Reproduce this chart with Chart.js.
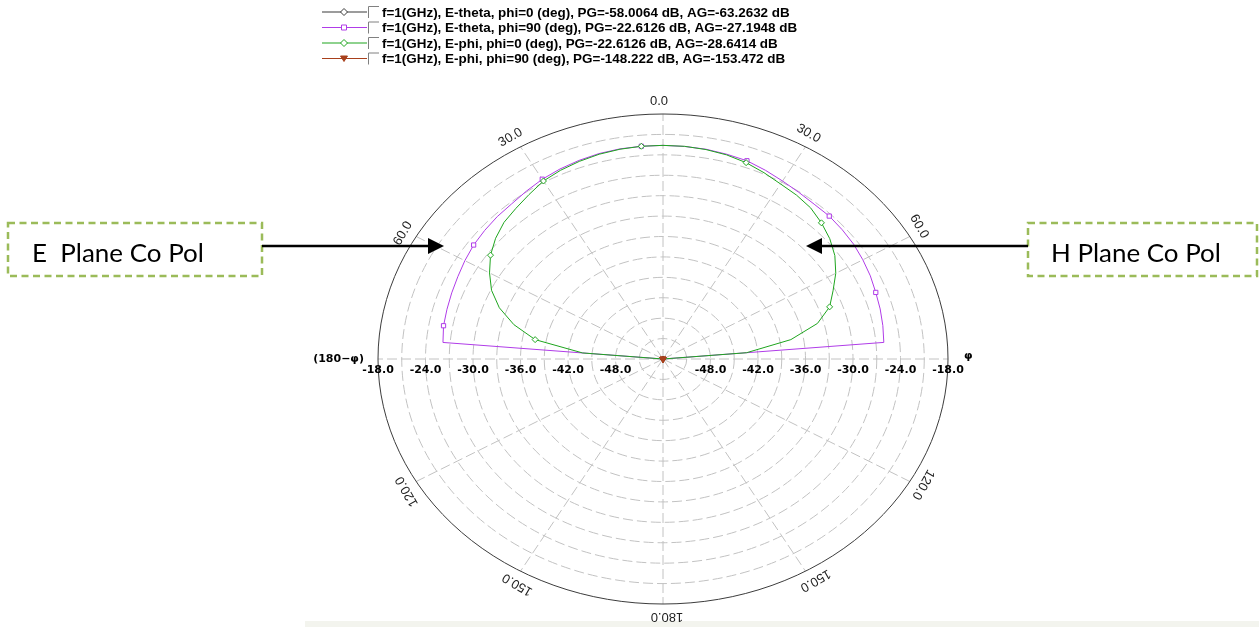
<!DOCTYPE html>
<html>
<head>
<meta charset="utf-8">
<script src="https://cdn.jsdelivr.net/npm/chart.js@4.4.1/dist/chart.umd.min.js"></script>
<style>
    html, body { margin: 0; padding: 0; background: #ffffff; }
    #wrap { width: 1259px; height: 627px; position: relative; }
</style>
</head>
<body>
<div id="wrap"><canvas id="chart"></canvas></div>
<script>
// theta sweep of the two visible cuts (deg)
const thetaDeg = [-90, -85, -80, -75, -70, -65, -60, -55, -50, -45, -40, -35, -30, -25, -20, -15, -10, -5, 0,
    5, 10, 15, 20, 25, 30, 35, 40, 45, 50, 55, 60, 65, 70, 75, 80, 85, 90];

// E-theta, phi=90 (dB)
const ethetaPhi90 = [-60.0, -26.1, -25.85, -25.75, -25.6, -25.4, -25.1, -24.8, -24.6, -24.4, -24.25, -23.9, -23.5, -23.2, -22.95, -22.75, -22.65, -22.62, -22.61,
    -22.65, -22.7, -22.85, -23.0, -23.4, -23.8, -24.1, -24.3, -24.3, -24.45, -24.6, -24.85, -25.1, -25.4, -25.6, -25.8, -26.0, -60.0];

// E-phi, phi=0 (dB)
const ephiPhi0 = [-60.0, -43.8, -37.6, -34.5, -32.0, -30.1, -28.7, -27.4, -26.4, -25.6, -25.1, -24.5, -23.8, -23.4, -23.1, -22.85, -22.7, -22.62, -22.61,
    -22.63, -22.75, -22.95, -23.3, -23.8, -24.3, -24.6, -25.0, -25.7, -26.5, -27.5, -28.8, -30.3, -31.6, -33.8, -37.6, -43.4, -60.0];

// the two cross-pol cuts sit far below the -54 dB floor, only their markers show (at the centre)
const markerAngles = [-80, -55, -30, -5, 20, 45, 70];
const ethetaPhi0 = [-66.1, -61.5, -59.2, -58.0, -58.6, -61.0, -65.3];
const ephiPhi90 = [-160.2, -152.7, -149.5, -148.2, -148.9, -151.3, -156.8];

const seriesNames = [
    'f=1(GHz), E-theta, phi=0 (deg)',
    'f=1(GHz), E-theta, phi=90 (deg)',
    'f=1(GHz), E-phi, phi=0 (deg)',
    'f=1(GHz), E-phi, phi=90 (deg)',
];
const peakGain = ['-58.0064', '-22.6126', '-22.6126', '-148.222'];
const avgGain = ['-63.2632', '-27.1948', '-28.6414', '-153.472'];

const rMin = -54;
const rMax = -18;
const ringStep = 3;
const radialTicks = [-18, -24, -30, -36, -42, -48];
const radialTickLabels = ['-18.0', '-24.0', '-30.0', '-36.0', '-42.0', '-48.0'];
const angleTicks = [0, 30, 60, 120, 150, 180, -30, -60, -120, -150];
const angleTickLabels = ['0.0', '30.0', '60.0', '120.0', '150.0', '180.0', '30.0', '60.0', '120.0', '150.0'];

const toXY = (deg, db) => {
    const r = (Math.max(db, rMin) - rMin) / (rMax - rMin);
    const a = deg * Math.PI / 180;
    return { x: r * Math.sin(a), y: r * Math.cos(a) };
};

const purple = '#b03ce8';
const green = '#1ea51e';
const brown = '#a8401c';
const black = '#3a3a3a';

const markerOnly = (angles) => (ctx) => (markerAngles.includes(angles[ctx.dataIndex]) ? 3 : 0);

const polarFrame = {
    id: 'polarFrame',
    beforeDatasetsDraw(chart) {
        const { ctx, scales: { x, y } } = chart;
        const cx = x.getPixelForValue(0);
        const cy = y.getPixelForValue(0);
        const rx = x.getPixelForValue(1) - cx;
        const ry = cy - y.getPixelForValue(1);
        ctx.save();
        ctx.strokeStyle = '#c2c2c2';
        ctx.lineWidth = 1;
        ctx.setLineDash([10, 4]);
        for (let db = rMin + ringStep; db < rMax; db += ringStep) {
            const f = (db - rMin) / (rMax - rMin);
            ctx.beginPath();
            ctx.ellipse(cx, cy, rx * f, ry * f, 0, 0, Math.PI * 2);
            ctx.stroke();
        }
        for (let a = 0; a < 360; a += 30) {
            const t = a * Math.PI / 180;
            ctx.beginPath();
            ctx.moveTo(cx, cy);
            ctx.lineTo(cx + rx * Math.sin(t), cy - ry * Math.cos(t));
            ctx.stroke();
        }
        ctx.setLineDash([]);
        ctx.strokeStyle = '#3c3c3c';
        ctx.beginPath();
        ctx.ellipse(cx, cy, rx, ry, 0, 0, Math.PI * 2);
        ctx.stroke();
        ctx.restore();
    },
    afterDraw(chart) {
        const { ctx, scales: { x, y } } = chart;
        const cx = x.getPixelForValue(0);
        const cy = y.getPixelForValue(0);
        const rx = x.getPixelForValue(1) - cx;
        const ry = cy - y.getPixelForValue(1);
        ctx.save();

        // faint strip along the bottom edge
        ctx.fillStyle = '#f3f4ee';
        ctx.fillRect(305, 621, 1259 - 305, 6);

        // angle labels round the rim
        ctx.fillStyle = '#222222';
        ctx.font = '13px "Liberation Sans", Arial, sans-serif';
        ctx.textAlign = 'center';
        ctx.textBaseline = 'middle';
        angleTicks.forEach((a, i) => {
            const t = a * Math.PI / 180;
            const ex = cx + rx * Math.sin(t);
            const ey = cy - ry * Math.cos(t);
            const px = ex + 13 * Math.sin(t) - 4 * Math.cos(t);
            const py = ey - 13 * Math.cos(t) - 4 * Math.sin(t);
            ctx.save();
            ctx.translate(px, py);
            ctx.rotate(t);
            ctx.fillText(angleTickLabels[i], 0, 0);
            ctx.restore();
        });

        // radial tick labels along the horizontal axis, both sides
        ctx.fillStyle = '#000000';
        ctx.font = 'bold 11px "DejaVu Sans", Verdana, sans-serif';
        radialTicks.forEach((db, i) => {
            const f = (db - rMin) / (rMax - rMin);
            ctx.fillText(radialTickLabels[i], cx - rx * f, cy + 11.5);
            ctx.fillText(radialTickLabels[i], cx + rx * f, cy + 11.5);
        });
        ctx.textAlign = 'right';
        ctx.fillText('(180\u2212\u03c6)', cx - rx - 14, cy);
        ctx.textAlign = 'left';
        ctx.fillText('\u03c6', cx + rx + 16, cy - 3);

        // legend
        const rowY = [12, 27.5, 43, 58.5];
        ctx.font = 'bold 12px "Liberation Sans", Arial, sans-serif';
        const firstRow = `${seriesNames[0]}, PG=${peakGain[0]} dB, AG=${avgGain[0]} dB`;
        const legendSize = 12 * 408 / ctx.measureText(firstRow).width;
        chart.data.datasets.forEach((ds, i) => {
            const yy = rowY[i];
            ctx.strokeStyle = ds.borderColor;
            ctx.lineWidth = 1.2;
            ctx.beginPath();
            ctx.moveTo(322, yy);
            ctx.lineTo(367, yy);
            ctx.stroke();
            ctx.save();
            ctx.lineWidth = 1;
            ctx.translate(344, yy);
            ctx.fillStyle = ds.pointBackgroundColor;
            ctx.strokeStyle = ds.borderColor;
            ctx.beginPath();
            if (ds.pointStyle === 'rect') {
                ctx.rect(-2.5, -2.5, 5, 5);
            } else if (ds.pointStyle === 'rectRot') {
                ctx.moveTo(0, -3.5); ctx.lineTo(3.5, 0); ctx.lineTo(0, 3.5); ctx.lineTo(-3.5, 0); ctx.closePath();
            } else {
                ctx.moveTo(-3.5, -2.5); ctx.lineTo(3.5, -2.5); ctx.lineTo(0, 3); ctx.closePath();
            }
            ctx.fill();
            ctx.stroke();
            ctx.restore();
            // checkbox
            ctx.fillStyle = '#ffffff';
            ctx.fillRect(368, yy - 6, 11, 12);
            ctx.strokeStyle = '#808080';
            ctx.lineWidth = 1;
            ctx.beginPath();
            ctx.moveTo(368.5, yy + 6); ctx.lineTo(368.5, yy - 5.5); ctx.lineTo(379, yy - 5.5);
            ctx.stroke();
            ctx.fillStyle = '#000000';
            ctx.font = `bold ${legendSize}px "Liberation Sans", Arial, sans-serif`;
            ctx.textAlign = 'left';
            ctx.fillText(`${seriesNames[i]}, PG=${peakGain[i]} dB, AG=${avgGain[i]} dB`, 382, yy + 1);
        });

        // annotation boxes with arrows
        const boxes = [
            { x0: 8, x1: 262, text: 'E  Plane Co Pol', tx: 32, tw: 172, tip: 444 },
            { x0: 1028, x1: 1257, text: 'H Plane Co Pol', tx: 1051, tw: 170, tip: 806 },
        ];
        boxes.forEach((b) => {
            ctx.strokeStyle = '#9bbb59';
            ctx.lineWidth = 2.5;
            ctx.setLineDash([7, 4.5]);
            ctx.strokeRect(b.x0, 223, b.x1 - b.x0, 53);
            ctx.setLineDash([]);
            ctx.font = '24px Lato, "Open Sans", sans-serif';
            const w = ctx.measureText(b.text).width;
            const size = 24 * b.tw / w;
            ctx.font = `${size}px Lato, "Open Sans", sans-serif`;
            ctx.fillStyle = '#000000';
            ctx.textAlign = 'left';
            ctx.textBaseline = 'alphabetic';
            ctx.fillText(b.text, b.tx, 262);

            const dir = b.tip > b.x1 ? 1 : -1;
            const start = dir > 0 ? b.x1 : b.x0;
            ctx.strokeStyle = '#000000';
            ctx.lineWidth = 2.5;
            ctx.beginPath();
            ctx.moveTo(start, 246);
            ctx.lineTo(b.tip - dir * 12, 246);
            ctx.stroke();
            ctx.fillStyle = '#000000';
            ctx.beginPath();
            ctx.moveTo(b.tip, 246);
            ctx.lineTo(b.tip - dir * 16, 238);
            ctx.lineTo(b.tip - dir * 16, 254);
            ctx.closePath();
            ctx.fill();
        });
        ctx.restore();
    },
};

const cut = (angles, values) => angles.map((a, i) => toXY(a, values[i]));

new Chart(document.getElementById('chart'), {
    type: 'scatter',
    data: {
        datasets: [
            {
                label: seriesNames[0],
                data: cut(markerAngles, ethetaPhi0),
                borderColor: black,
                pointBackgroundColor: '#ffffff',
                pointStyle: 'rectRot',
                pointRadius: 3,
                borderWidth: 1,
                showLine: true,
                order: 3,
            },
            {
                label: seriesNames[1],
                data: cut(thetaDeg, ethetaPhi90),
                borderColor: purple,
                pointBackgroundColor: '#ffffff',
                pointStyle: 'rect',
                pointRadius: markerOnly(thetaDeg),
                borderWidth: 1,
                showLine: true,
                order: 2,
            },
            {
                label: seriesNames[2],
                data: cut(thetaDeg, ephiPhi0),
                borderColor: green,
                pointBackgroundColor: '#ffffff',
                pointStyle: 'rectRot',
                pointRadius: markerOnly(thetaDeg),
                borderWidth: 1,
                showLine: true,
                order: 1,
            },
            {
                label: seriesNames[3],
                data: cut(markerAngles, ephiPhi90),
                borderColor: brown,
                pointBackgroundColor: brown,
                pointStyle: 'triangle',
                pointRotation: 180,
                pointRadius: 3.5,
                borderWidth: 1,
                showLine: true,
                order: 0,
            },
        ],
    },
    options: {
        responsive: true,
        maintainAspectRatio: false,
        animation: false,
        layout: { padding: { left: 378, right: 311, top: 114, bottom: 23 } },
        elements: { line: { tension: 0 } },
        plugins: {
            legend: { display: false },
            tooltip: { enabled: false },
        },
        scales: {
            x: { type: 'linear', min: -1, max: 1, display: false },
            y: { type: 'linear', min: -1, max: 1, display: false },
        },
    },
    plugins: [polarFrame],
});
</script>
</body>
</html>
